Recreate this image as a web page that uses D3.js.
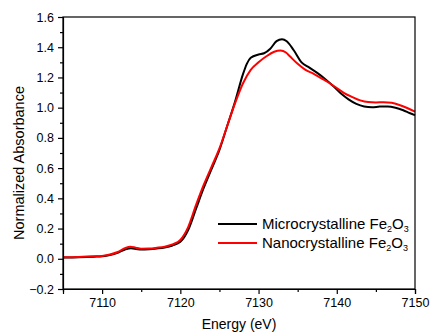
<!DOCTYPE html>
<html>
<head>
<meta charset="utf-8">
<script src="https://cdn.jsdelivr.net/npm/d3@7"></script>
<style>
  body { margin: 0; background: #fff; }
  svg { display: block; font-family: Arial, 'Liberation Sans', sans-serif; }
</style>
</head>
<body>
<svg width="430" height="333"></svg>
<script>
const microEnergy = [7105, 7107, 7109, 7110, 7111, 7112, 7113, 7113.7, 7114.5, 7115, 7116, 7117, 7118, 7119, 7120, 7121, 7122, 7123, 7124, 7125, 7126, 7127, 7128, 7128.5, 7129, 7130, 7130.7, 7131.5, 7132.3, 7133, 7133.6, 7134.5, 7135.5, 7136.5, 7137.5, 7138.5, 7139.5, 7140.5, 7141.5, 7142.5, 7143.5, 7144.5, 7145.5, 7146.5, 7147.5, 7148.5, 7149.3, 7150];
const microAbs = [0.008, 0.010, 0.014, 0.017, 0.025, 0.040, 0.062, 0.069, 0.063, 0.061, 0.063, 0.068, 0.075, 0.088, 0.112, 0.19, 0.33, 0.47, 0.595, 0.72, 0.88, 1.04, 1.22, 1.29, 1.33, 1.352, 1.36, 1.39, 1.44, 1.453, 1.44, 1.38, 1.30, 1.265, 1.23, 1.19, 1.145, 1.095, 1.055, 1.025, 1.008, 1.003, 1.007, 1.008, 1.000, 0.983, 0.965, 0.950];

const nanoEnergy = [7105, 7107, 7109, 7110, 7111, 7112, 7113, 7113.6, 7114.3, 7115, 7116, 7117, 7118, 7119, 7120, 7121, 7122, 7123, 7124, 7125, 7126, 7127, 7128, 7129, 7130, 7131, 7132, 7132.8, 7133.5, 7134, 7135, 7136, 7137, 7138, 7139, 7140, 7141, 7142, 7143, 7144, 7145, 7146, 7147, 7148, 7149, 7150];
const nanoAbs = [0.010, 0.012, 0.016, 0.019, 0.028, 0.045, 0.072, 0.080, 0.073, 0.067, 0.068, 0.073, 0.080, 0.095, 0.125, 0.21, 0.355, 0.49, 0.61, 0.73, 0.88, 1.03, 1.16, 1.25, 1.30, 1.34, 1.37, 1.378, 1.365, 1.34, 1.29, 1.25, 1.225, 1.195, 1.165, 1.13, 1.095, 1.07, 1.048, 1.037, 1.035, 1.036, 1.032, 1.018, 0.998, 0.974];

const xTicks = [7110, 7120, 7130, 7140, 7150];
const yTicks = [-0.2, 0.0, 0.2, 0.4, 0.6, 0.8, 1.0, 1.2, 1.4, 1.6];

const series = [
  { name: 'Microcrystalline', energy: microEnergy, abs: microAbs, color: '#000000' },
  { name: 'Nanocrystalline', energy: nanoEnergy, abs: nanoAbs, color: '#ff0000' }
];

const margin = { top: 17, right: 15, bottom: 44, left: 63 };
const width = 430 - margin.left - margin.right;
const height = 333 - margin.top - margin.bottom;

const svg = d3.select('svg');
const graph = svg.append('g').attr('transform', `translate(${margin.left}, ${margin.top})`);

const x = d3.scaleLinear().domain([7105, 7150]).range([0, width]);
const y = d3.scaleLinear().domain([-0.2, 1.6]).range([height, 0]);

// curves
const line = d3.line()
  .x(d => x(d[0]))
  .y(d => y(d[1]))
  .curve(d3.curveMonotoneX);

series.forEach(s => {
  graph.append('path')
    .datum(s.energy.map((e, i) => [e, s.abs[i]]))
    .attr('fill', 'none')
    .attr('stroke', s.color)
    .attr('stroke-width', 2)
    .attr('d', line);
});

// frame
graph.append('rect')
  .attr('width', width)
  .attr('height', height)
  .attr('fill', 'none')
  .attr('stroke', '#000')
  .attr('stroke-width', 1.2);

// axes
const xAxis = d3.axisBottom(x).tickValues(xTicks).tickFormat(d3.format('d')).tickSize(5).tickPadding(4);
graph.append('g').attr('transform', `translate(0, ${height})`).call(xAxis);
graph.append('g').attr('transform', `translate(0, ${height})`)
  .call(d3.axisBottom(x).tickValues(d3.range(7105, 7151, 5).filter(v => v % 10 !== 0)).tickFormat('').tickSize(3))
  .call(g => g.select('.domain').remove());

const yAxis = d3.axisLeft(y).tickValues(yTicks).tickFormat(d3.format('.1f')).tickSize(5).tickPadding(4);
graph.append('g').call(yAxis);
graph.append('g')
  .call(d3.axisLeft(y).tickValues(d3.range(-1, 16, 2).map(v => v / 10)).tickFormat('').tickSize(3))
  .call(g => g.select('.domain').remove());

graph.selectAll('.tick line').attr('stroke-width', 1.2);
graph.selectAll('.domain').attr('stroke-width', 1.2);
graph.selectAll('.tick text')
  .attr('font-size', 12.5)
  .attr('font-family', 'Arial, Liberation Sans, sans-serif')
  .attr('fill', '#000');

// axis titles
svg.append('text')
  .attr('x', margin.left + width / 2)
  .attr('y', 329)
  .attr('text-anchor', 'middle')
  .attr('font-size', 14)
  .text('Energy (eV)');

svg.append('text')
  .attr('transform', 'translate(24, 163) rotate(-90)')
  .attr('text-anchor', 'middle')
  .attr('font-size', 14.5)
  .text('Normalized Absorbance');

// legend
const legend = graph.append('g').attr('transform', `translate(155, ${y(0.23)})`);
series.forEach((s, i) => {
  const row = legend.append('g').attr('transform', `translate(0, ${i * 19})`);
  row.append('line')
    .attr('x1', 0).attr('x2', 39)
    .attr('stroke', s.color)
    .attr('stroke-width', 2);
  const t = row.append('text')
    .attr('x', 44)
    .attr('y', 4.5)
    .attr('font-size', 15);
  t.append('tspan').text(`${s.name} Fe`);
  t.append('tspan').attr('font-size', 9).attr('dy', 3).text('2');
  t.append('tspan').attr('dy', -3).text('O');
  t.append('tspan').attr('font-size', 9).attr('dy', 3).text('3');
});
</script>
</body>
</html>
